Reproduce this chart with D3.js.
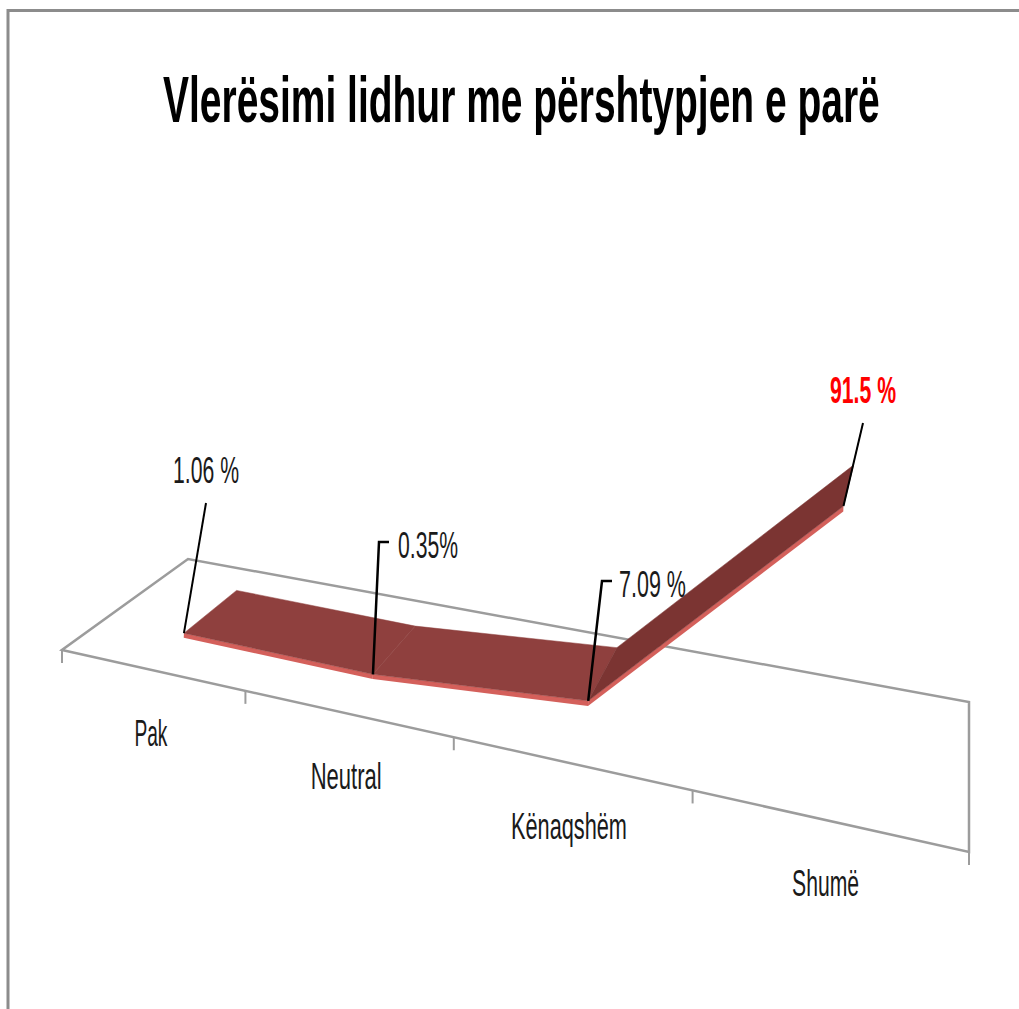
<!DOCTYPE html>
<html>
<head>
<meta charset="utf-8">
<script src="https://cdn.jsdelivr.net/npm/d3@7"></script>
<style>
  body { margin: 0; background: #fff; }
  svg { display: block; }
  text { font-family: "Liberation Sans", Arial, sans-serif; }
</style>
</head>
<body>
<svg id="canvas" width="1019" height="1009"></svg>
<script>
// chart data
var categories = ["Pak", "Neutral", "Kënaqshëm", "Shumë"];
var values = [1.06, 0.35, 7.09, 91.5];
var valueLabels = ["1.06 %", "0.35%", "7.09 %", "91.5 %"];
var titleText = "Vlerësimi lidhur me përshtypjen e parë";

var svg = d3.select("#canvas");

// outer frame (only top and left edges show in the picture)
svg.append("path")
    .attr("d", "M8,1009 V10.5 H1019")
    .attr("fill", "none")
    .attr("stroke", "#8c8c8c")
    .attr("stroke-width", 3);

// squeeze text horizontally so it looks like the narrow original font
function squeeze(sel, x, y, width, anchor) {
  var natural = sel.node().getComputedTextLength();
  var k = width / natural;
  var x0 = anchor === "middle" ? x - width / 2 : x;
  sel.attr("x", 0).attr("y", 0)
     .attr("text-anchor", "start")
     .attr("transform", "translate(" + x0 + "," + y + ") scale(" + k + ",1)");
}

var title = svg.append("text")
    .attr("font-size", 64)
    .attr("font-weight", "bold")
    .text(titleText);
squeeze(title, 163, 122, 717);

// floor corners of the 3d plot: front-left, front-right, back-right, back-left
var floor = [[62, 650], [969, 852], [969, 702], [188, 559]];

// square -> quad homography
function homography(q) {
  var x0 = q[0][0], y0 = q[0][1], x1 = q[1][0], y1 = q[1][1],
      x2 = q[2][0], y2 = q[2][1], x3 = q[3][0], y3 = q[3][1];
  var sx = x0 - x1 + x2 - x3, sy = y0 - y1 + y2 - y3;
  var dx1 = x1 - x2, dx2 = x3 - x2, dy1 = y1 - y2, dy2 = y3 - y2;
  var den = dx1 * dy2 - dx2 * dy1;
  var g = (sx * dy2 - dx2 * sy) / den;
  var h = (dx1 * sy - sx * dy1) / den;
  return {
    a: x1 - x0 + g * x1, b: x3 - x0 + h * x3, c: x0,
    d: y1 - y0 + g * y1, e: y3 - y0 + h * y3, f: y0,
    g: g, h: h
  };
}
var H = homography(floor);
var lean = 0.04; // vertical edges lean a bit to the right

// u: along categories, w: depth, hh: height (in projected units)
function project(u, w, hh) {
  var z = H.g * u + H.h * w + 1;
  return [(H.a * u + H.b * w + H.c + lean * hh) / z,
          (H.d * u + H.e * w + H.f - hh) / z];
}

var x = d3.scaleBand().domain(categories).range([0, 1]);
var y = d3.scaleLinear().domain([-3, 100]).range([0, 248]);
var uc = function(c) { return x(c) + x.bandwidth() / 2; };

var wFront = 0.25, wBack = 0.7, thick = 4.5;
var line = d3.line();

// floor outline
var g = svg.append("g");
g.append("path")
    .attr("d", line(floor) + "Z")
    .attr("fill", "none")
    .attr("stroke", "#9c9c9c")
    .attr("stroke-width", 2.5);

// ticks along the front edge
var tickU = x.domain().map(function(c) { return x(c); }).concat([1]);
g.selectAll(".tick")
    .data(tickU)
    .enter().append("line")
    .attr("class", "tick")
    .attr("x1", function(u) { return project(u, 0, 0)[0]; })
    .attr("y1", function(u) { return project(u, 0, 0)[1]; })
    .attr("x2", function(u) { return project(u, 0, 0)[0]; })
    .attr("y2", function(u) { return project(u, 0, 0)[1] + 13; })
    .attr("stroke", "#9c9c9c")
    .attr("stroke-width", 2);

// category labels under the front edge
var catWidth = [33, 71, 116, 67];
categories.forEach(function(c, i) {
  var p = project(uc(c), 0, 0);
  var t = g.append("text")
      .attr("font-size", 37)
      .attr("fill", "#1a1a1a")
      .text(c);
  squeeze(t, p[0], p[1] + 76, catWidth[i], "middle");
});

// ribbon
var pts = categories.map(function(c, i) {
  var u = uc(c), hh = y(values[i]);
  return {
    front: project(u, wFront, hh),
    back: project(u, wBack, hh),
    low: project(u, wFront, hh - thick)
  };
});

var segs = d3.pairs(pts);
var rib = svg.append("g");
segs.forEach(function(s, i) {
  var a = s[0], b = s[1];
  var steep = Math.abs(values[i + 1] - values[i]) > 20;
  rib.append("path")
      .attr("d", line([a.front, b.front, b.low, a.low]) + "Z")
      .attr("fill", "#d4605b");
  rib.append("path")
      .attr("d", line([a.front, b.front, b.back, a.back]) + "Z")
      .attr("fill", steep ? "#7b3432" : "#8f403e")
      .attr("stroke", steep ? "#7b3432" : "#8f403e")
      .attr("stroke-width", 0.5);
});

// data labels with leader lines
var labelLayout = [
  { tx: 173, ty: 483, lx: 206, ly: 503, tick: false, w: 66 },
  { tx: 398, ty: 558, lx: 379, ly: 542, tick: true, w: 60 },
  { tx: 619, ty: 597, lx: 602, ly: 581, tick: true, w: 67 },
  { tx: 830, ty: 403, lx: 863, ly: 423, tick: false, w: 66 }
];
var lab = svg.append("g");
pts.forEach(function(p, i) {
  var L = labelLayout[i];
  var path = [[p.front[0], p.front[1]], [L.lx, L.ly]];
  if (L.tick) path.push([L.lx + 10, L.ly]);
  lab.append("path")
      .attr("d", line(path))
      .attr("fill", "none")
      .attr("stroke", "#000")
      .attr("stroke-width", L.tick ? 2.5 : 2);
  var t = lab.append("text")
      .attr("font-size", 37)
      .attr("font-weight", i === 3 ? "bold" : "normal")
      .attr("fill", i === 3 ? "#ff0000" : "#1a1a1a")
      .text(valueLabels[i]);
  squeeze(t, L.tx, L.ty, L.w);
});
</script>
</body>
</html>
